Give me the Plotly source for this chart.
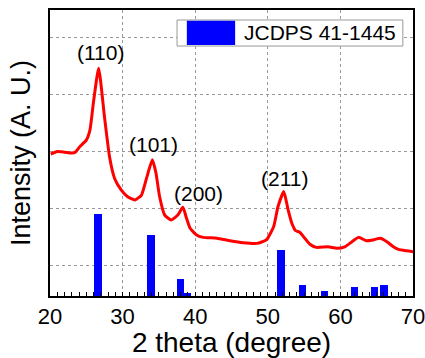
import plotly.graph_objects as go

# XRD pattern (2 theta in degrees, intensity in arbitrary units)
theta = [20.1, 21.0, 22.0, 23.0, 23.5, 24.1, 25.0, 25.5, 26.0, 26.7, 27.5, 28.2, 28.9,
         29.8, 30.7, 31.7, 32.6, 33.3, 34.1, 34.6, 35.1, 35.8, 36.7, 37.6, 38.3, 38.8,
         39.3, 40.2, 41.1, 43.0, 44.8, 46.6, 48.5, 49.8, 50.8, 51.4, 52.2, 52.8, 53.3,
         53.8, 54.4, 55.1, 55.8, 56.7, 58.3, 59.5, 60.6, 61.6, 62.5, 63.6, 64.5, 65.5,
         66.4, 67.3, 68.0, 69.1, 70.0]
intensity = [49.6, 50.5, 50.3, 50.0, 50.3, 52.2, 54.5, 58.0, 68.0, 79.6, 62.7, 48.7, 41.1,
             37.1, 34.7, 33.6, 35.3, 41.2, 47.6, 42.9, 34.7, 28.3, 26.6, 28.3, 31.0, 27.2,
             23.7, 21.3, 20.5, 20.2, 19.3, 18.6, 18.4, 19.6, 24.2, 31.2, 36.5, 30.1, 25.5,
             22.9, 22.3, 20.2, 18.1, 17.0, 17.2, 16.7, 17.2, 19.0, 20.5, 19.3, 19.6, 20.2,
             19.0, 17.2, 16.3, 15.8, 15.5]

# JCPDS 41-1445 reference lines
ref_theta = [26.6, 33.9, 37.95, 38.95, 51.8, 54.8, 57.85, 61.9, 64.7, 66.0]
ref_int = [28.7, 21.3, 5.8, 1.0, 16.1, 3.7, 1.6, 3.0, 3.3, 3.8]

# peak labels
peak_labels = ["(110)", "(101)", "(200)", "(211)"]
label_x = [26.9, 34.2, 40.4, 52.3]
label_y = [85.0, 52.8, 35.9, 41.1]

legend_name = "JCDPS 41-1445"

FONT = "Liberation Sans, Arial, sans-serif"

fig = go.Figure()
fig.add_trace(go.Bar(x=ref_theta, y=ref_int, width=1.0, marker_color="#0000FF",
                     marker_line_width=0, name=legend_name, showlegend=False))
fig.add_trace(go.Scatter(x=theta, y=intensity, mode="lines",
                         line=dict(color="#FF0000", width=3, shape="spline", smoothing=0.5),
                         showlegend=False))

for t, lx, ly in zip(peak_labels, label_x, label_y):
    fig.add_annotation(x=lx, y=ly, text=t, showarrow=False,
                       font=dict(size=21, color="black", family=FONT))

# custom legend box
fig.add_shape(type="rect", xref="paper", yref="paper", x0=0.350, x1=0.972, y0=0.874, y1=0.965,
              fillcolor="white", line=dict(color="#999999", width=1), layer="above")
fig.add_shape(type="rect", xref="paper", yref="paper", x0=0.377, x1=0.510, y0=0.878, y1=0.962,
              fillcolor="#0000FF", line=dict(width=0), layer="above")
fig.add_annotation(xref="paper", yref="paper", x=0.529, y=0.92, xanchor="left", yanchor="middle",
                   text=legend_name, showarrow=False,
                   font=dict(size=21, color="black", family=FONT))

fig.update_layout(
    width=425, height=358,
    margin=dict(l=50, r=12, t=10, b=62, autoexpand=False),
    plot_bgcolor="white", paper_bgcolor="white",
    font=dict(family=FONT, color="black"),
    bargap=0,
)
fig.update_xaxes(range=[20, 70], tick0=20, dtick=10, automargin=False,
                 ticklabeloverflow="allow",
                 showgrid=True, gridcolor="#999999", griddash="dot", gridwidth=1,
                 showline=True, linecolor="black", linewidth=2, mirror=True,
                 ticks="inside", ticklen=4, tickcolor="black",
                 minor=dict(dtick=1, ticks="inside", ticklen=4, tickcolor="black", showgrid=False),
                 tickfont=dict(size=22, color="black"),
                 title=dict(text="2 theta (degree)", font=dict(size=28, color="black"), standoff=4),
                 zeroline=False)
fig.update_yaxes(range=[0, 100], tick0=10.5, dtick=20, automargin=False,
                 showgrid=True, gridcolor="#999999", griddash="dot", gridwidth=1,
                 showline=True, linecolor="black", linewidth=2, mirror=True,
                 ticks="", showticklabels=False,
                 title=dict(text="Intensity (A. U.)", font=dict(size=27, color="black"), standoff=10),
                 zeroline=False)

fig.write_html("out.html")
